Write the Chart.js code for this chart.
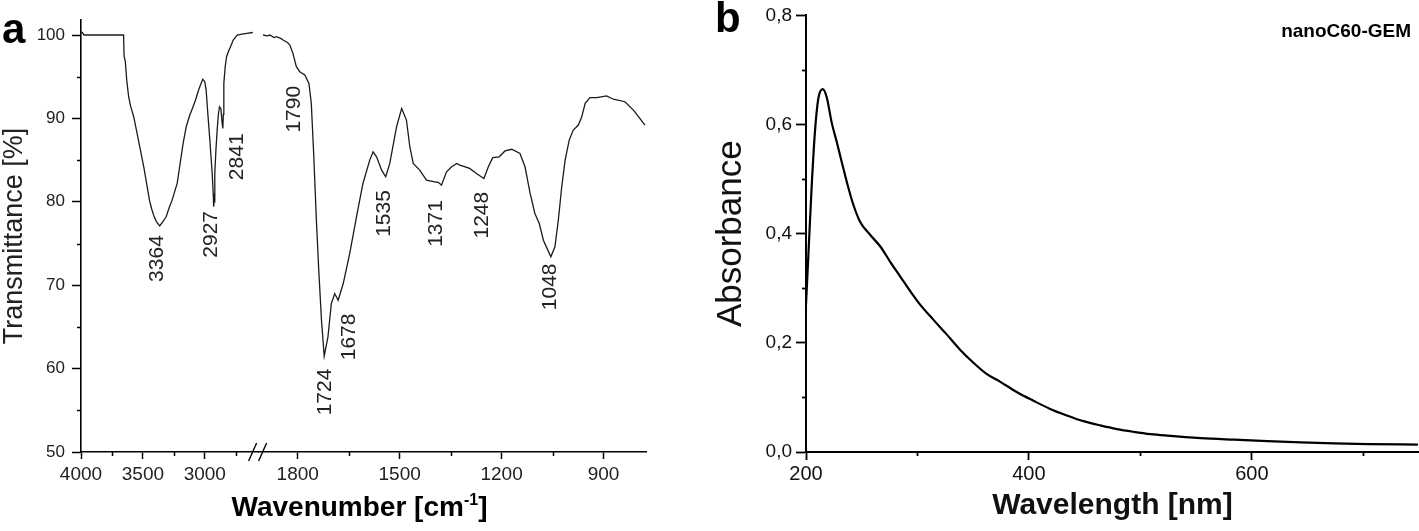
<!DOCTYPE html>
<html>
<head>
<meta charset="utf-8">
<script src="https://cdn.jsdelivr.net/npm/chart.js@4.4.1/dist/chart.umd.min.js"></script>
<style>
html, body { margin: 0; padding: 0; background: #ffffff; }
#wrap { position: relative; width: 1419px; height: 531px; overflow: hidden; background: #fff; }
#boxA { position: absolute; left: 0; top: 0; width: 700px; height: 531px; }
#boxB { position: absolute; left: 700px; top: 0; width: 719px; height: 531px; }
canvas { display: block; }
</style>
</head>
<body>
<div id="wrap">
  <div id="boxA"><canvas id="chartA" width="700" height="531"></canvas></div>
  <div id="boxB"><canvas id="chartB" width="719" height="531"></canvas></div>
</div>
<script>
// ================= DATA =================
// Panel a: FTIR spectrum, high-wavenumber segment (4000 - ~2565 cm-1)
const irWaveHigh  = [4000, 3990, 3975, 3900, 3800, 3700, 3656, 3652, 3642, 3630, 3615, 3600, 3590, 3574, 3547, 3520, 3493, 3470, 3447, 3430, 3413, 3390, 3364, 3340, 3312, 3290, 3264, 3223, 3200, 3175, 3150, 3121, 3100, 3075, 3050, 3030, 3016, 3000, 2989, 2975, 2959, 2950, 2940, 2932, 2928, 2925, 2919, 2910, 2900, 2890, 2881, 2870, 2860, 2854, 2850, 2846, 2835, 2824, 2810, 2792, 2770, 2738, 2700, 2660, 2612];
const irTransHigh = [100.4, 100.3, 100.0, 100.0, 100.0, 100.0, 100.0, 97.5, 96.8, 94.5, 92.6, 91.5, 91.0, 90.2, 88.2, 86.2, 84.2, 82.2, 80.2, 79.2, 78.4, 77.6, 77.1, 77.6, 78.2, 79.2, 80.2, 82.2, 84.5, 87.0, 89.0, 90.4, 91.2, 92.2, 93.4, 94.2, 94.7, 94.4, 93.4, 90.5, 87.4, 85.5, 83.4, 81.0, 79.4, 80.0, 83.4, 86.2, 88.6, 90.5, 91.4, 91.2, 89.5, 88.8, 90.5, 94.2, 96.2, 97.4, 98.0, 98.6, 99.4, 100.0, 100.1, 100.2, 100.3];
// Panel a: low-wavenumber segment (~1915 - 775 cm-1)
const irWaveLow  = [1902, 1890, 1882, 1870, 1863, 1850, 1843, 1830, 1823, 1814, 1804, 1794, 1779, 1767, 1760, 1753, 1745, 1738, 1730, 1722, 1711, 1701, 1691, 1681, 1666, 1647, 1627, 1608, 1588, 1578, 1568, 1553, 1541, 1529, 1509, 1494, 1480, 1470, 1460, 1441, 1421, 1396, 1385, 1377, 1362, 1347, 1332, 1323, 1294, 1274, 1252, 1239, 1226, 1207, 1190, 1170, 1146, 1131, 1116, 1102, 1089, 1077, 1055, 1043, 1033, 1023, 1013, 1001, 989, 974, 964, 954, 940, 920, 891, 871, 837, 812, 778];
const irTransLow = [100.0, 99.9, 100.0, 99.7, 99.8, 99.6, 99.4, 99.1, 98.8, 97.8, 96.2, 95.6, 95.2, 94.2, 91.8, 85.8, 77.8, 71.8, 65.8, 61.5, 63.8, 67.8, 69.0, 68.2, 70.2, 73.8, 78.2, 82.2, 85.0, 86.0, 85.4, 83.8, 83.0, 84.6, 89.0, 91.2, 89.8, 86.6, 84.6, 83.8, 82.6, 82.4, 82.3, 82.0, 83.6, 84.2, 84.6, 84.4, 84.0, 83.4, 82.8, 84.2, 85.3, 85.4, 86.1, 86.3, 85.8, 84.2, 81.0, 78.6, 77.4, 75.4, 73.4, 74.6, 77.8, 81.8, 85.0, 87.4, 88.6, 89.2, 90.2, 91.8, 92.5, 92.5, 92.7, 92.3, 92.0, 91.0, 89.2];
// Panel a tick values
const irTicksHigh = [4000, 3500, 3000];
const irTicksLow  = [1800, 1500, 1200, 900];
const irTicksY    = [50, 60, 70, 80, 90, 100];
const irMinorHigh = [3750, 3250, 2750];
const irMinorLow  = [1650, 1350, 1050];
const irMinorY    = [55, 65, 75, 85, 95];
// Panel a peak labels (text, anchor wavenumber, anchor transmittance)
const peakLabels    = ['3364', '2927', '2841', '1790', '1724', '1678', '1535', '1371', '1248', '1048'];
const peakLabelWave = [3385, 2948, 2738, 1809, 1720, 1647, 1544, 1391, 1256, 1057];
const peakLabelT    = [73.2, 76.1, 85.4, 91.1, 57.2, 63.8, 78.6, 77.4, 78.4, 69.8];

// Panel b: UV-Vis absorbance
const uvWavelength = [200, 202, 205, 208, 211, 215, 218.6, 223, 227.6, 232, 236.6, 242.5, 248.5, 257.5, 266.5, 275.4, 284.4, 293.4, 302.4, 314, 326, 338, 350, 362, 374, 389, 404, 419, 434, 449, 464, 479, 494, 509, 524, 554, 584, 614, 644, 674, 704, 749];
const uvAbsorbance = [0.270, 0.355, 0.483, 0.586, 0.647, 0.665, 0.650, 0.604, 0.568, 0.532, 0.495, 0.453, 0.422, 0.398, 0.377, 0.349, 0.322, 0.295, 0.270, 0.243, 0.216, 0.188, 0.164, 0.143, 0.129, 0.110, 0.094, 0.079, 0.067, 0.0565, 0.0487, 0.042, 0.037, 0.0328, 0.030, 0.0255, 0.0226, 0.020, 0.0177, 0.0159, 0.0146, 0.0135];
const uvTicksX = [200, 400, 600];
const uvTicksY = [0, 0.2, 0.4, 0.6, 0.8];
const uvMinorX = [300, 500, 700];
const uvMinorY = [0.1, 0.3, 0.5, 0.7];

// ================= RENDERING =================
const FONT = "'Liberation Sans', Arial, Helvetica, sans-serif";
const HIGH_MIN = 2565, HIGH_MAX = 4000, LOW_MIN = 775, LOW_MAX = 1915;

const toPts = (xs, ys) => xs.map((x, i) => ({ x: x, y: ys[i] }));
const fixTicks = vals => (s => { s.ticks = vals.map(v => ({ value: v })); });

const decor = {
  id: 'decor',
  afterDraw(chart, args, o) {
    const ctx = chart.ctx;
    ctx.save();
    (o.minor || []).forEach(m => {
      const s = chart.scales[m.axis];
      ctx.strokeStyle = '#000';
      ctx.lineWidth = m.width;
      m.values.forEach(v => {
        if (v < s.min || v > s.max) return;
        const p = Math.round(s.getPixelForValue(v)) + 0.5;
        ctx.beginPath();
        if (s.isHorizontal()) {
          ctx.moveTo(p, s.top); ctx.lineTo(p, s.top + m.len);
        } else {
          ctx.moveTo(s.right, p); ctx.lineTo(s.right - m.len, p);
        }
        ctx.stroke();
      });
    });
    if (o.letter) {
      ctx.fillStyle = '#000';
      ctx.font = 'bold 42px ' + FONT;
      ctx.textAlign = 'left';
      ctx.textBaseline = 'alphabetic';
      ctx.fillText(o.letter.text, o.letter.x, o.letter.y);
    }
    if (o.sample) {
      ctx.fillStyle = '#000';
      ctx.font = 'bold 19px ' + FONT;
      ctx.textAlign = 'right';
      ctx.textBaseline = 'alphabetic';
      ctx.fillText(o.sample.text, o.sample.x, o.sample.y);
    }
    if (o.breakAxis) {
      const s = chart.scales[o.breakAxis];
      const b = s.right, yA = s.top;
      ctx.strokeStyle = '#000';
      ctx.lineWidth = 1.4;
      [[-10, -2], [0, 8]].forEach(([a, c]) => {
        ctx.beginPath();
        ctx.moveTo(b + a, yA + 9);
        ctx.lineTo(b + c, yA - 9);
        ctx.stroke();
      });
    }
    if (o.peaks) {
      ctx.fillStyle = '#222';
      ctx.font = '21px ' + FONT;
      ctx.textAlign = 'center';
      ctx.textBaseline = 'middle';
      o.peaks.labels.forEach((t, i) => {
        const w = o.peaks.wave[i];
        const sx = w > LOW_MAX ? chart.scales.x1 : chart.scales.x2;
        const x = sx.getPixelForValue(w);
        const y = chart.scales.y.getPixelForValue(o.peaks.value[i]);
        ctx.save();
        ctx.translate(x, y);
        ctx.rotate(-Math.PI / 2);
        ctx.fillText(t, 0, 0);
        ctx.restore();
      });
    }
    if (o.xTitle) {
      const t = o.xTitle;
      const big = 'bold 28px ' + FONT, small = 'bold 16px ' + FONT;
      ctx.fillStyle = '#000';
      ctx.textBaseline = 'alphabetic';
      ctx.textAlign = 'left';
      ctx.font = big; const w1 = ctx.measureText(t.main).width; const w3 = ctx.measureText(t.end).width;
      ctx.font = small; const w2 = ctx.measureText(t.sup).width;
      const cx = (chart.chartArea.left + chart.chartArea.right) / 2 + t.dx;
      let x = cx - (w1 + w2 + w3) / 2;
      ctx.font = big; ctx.fillText(t.main, x, t.y); x += w1;
      ctx.font = small; ctx.fillText(t.sup, x, t.y - 11); x += w2;
      ctx.font = big; ctx.fillText(t.end, x, t.y);
    }
    ctx.restore();
  }
};

function xAxisA(min, max, tickVals, weight) {
  return {
    type: 'linear', position: 'bottom', stack: 'wn', stackWeight: weight,
    reverse: true, min: min, max: max, offset: false,
    afterBuildTicks: fixTicks(tickVals),
    ticks: { autoSkip: false, maxRotation: 0, minRotation: 0, padding: 4, color: '#222',
             font: { family: FONT, size: 19 }, callback: v => String(v) },
    grid: { drawOnChartArea: false, drawTicks: true, tickLength: 7, tickWidth: 1.5, tickColor: '#000' },
    border: { display: true, color: '#000', width: 1.6 },
    afterFit(s) { s.height = 79; }
  };
}

new Chart(document.getElementById('chartA'), {
  type: 'line',
  data: {
    datasets: [
      { data: toPts(irWaveHigh, irTransHigh), xAxisID: 'x1', yAxisID: 'y',
        borderColor: '#1a1a1a', borderWidth: 1.3, pointRadius: 0, tension: 0, fill: false },
      { data: toPts(irWaveLow, irTransLow), xAxisID: 'x2', yAxisID: 'y',
        borderColor: '#1a1a1a', borderWidth: 1.3, pointRadius: 0, tension: 0, fill: false }
    ]
  },
  options: {
    responsive: false, animation: false, events: [],
    layout: { padding: { left: 0, right: 54, top: 20, bottom: 0 } },
    plugins: {
      legend: { display: false }, tooltip: { enabled: false },
      decor: {
        letter: { text: 'a', x: 2, y: 43 },
        breakAxis: 'x1',
        minor: [
          { axis: 'x1', values: irMinorHigh, len: 4, width: 1.5 },
          { axis: 'x2', values: irMinorLow, len: 4, width: 1.5 },
          { axis: 'y', values: irMinorY, len: 4, width: 1.5 }
        ],
        peaks: { labels: peakLabels, wave: peakLabelWave, value: peakLabelT },
        xTitle: { main: 'Wavenumber [cm', sup: '-1', end: ']', y: 516, dx: -4 }
      }
    },
    scales: {
      x1: xAxisA(HIGH_MIN, HIGH_MAX, irTicksHigh, 177.4),
      x2: xAxisA(LOW_MIN, LOW_MAX, irTicksLow, 386.9),
      y: {
        type: 'linear', position: 'left', min: 50, max: 101.8,
        afterBuildTicks: fixTicks(irTicksY),
        ticks: { padding: 7, color: '#222', font: { family: FONT, size: 17 }, callback: v => String(v) },
        grid: { drawOnChartArea: false, drawTicks: true, tickLength: 9, tickWidth: 1.5, tickColor: '#000' },
        border: { display: true, color: '#000', width: 1.6 },
        title: { display: true, text: 'Transmittance [%]', color: '#222',
                 font: { family: FONT, size: 27, lineHeight: 1 }, padding: { top: 1, bottom: 0 } },
        afterFit(s) { s.width = 81; }
      }
    }
  },
  plugins: [decor]
});

new Chart(document.getElementById('chartB'), {
  type: 'line',
  data: {
    datasets: [
      { data: toPts(uvWavelength, uvAbsorbance), borderColor: '#000', borderWidth: 2.2,
        pointRadius: 0, cubicInterpolationMode: 'monotone', fill: false }
    ]
  },
  options: {
    responsive: false, animation: false, events: [],
    layout: { padding: { left: 0, right: 0, top: 13, bottom: 0 } },
    plugins: {
      legend: { display: false }, tooltip: { enabled: false },
      decor: {
        letter: { text: 'b', x: 15, y: 32 },
        sample: { text: 'nanoC60-GEM', x: 711, y: 37 },
        minor: [
          { axis: 'x', values: uvMinorX, len: 4, width: 1.8 },
          { axis: 'y', values: uvMinorY, len: 4, width: 1.8 }
        ]
      }
    },
    scales: {
      x: {
        type: 'linear', position: 'bottom', min: 200, max: 750,
        afterBuildTicks: fixTicks(uvTicksX),
        ticks: { autoSkip: false, maxRotation: 0, padding: 2, color: '#111',
                 font: { family: FONT, size: 20 }, callback: v => String(v) },
        grid: { drawOnChartArea: false, drawTicks: true, tickLength: 8, tickWidth: 1.8, tickColor: '#000' },
        border: { display: true, color: '#000', width: 2 },
        title: { display: true, text: 'Wavelength [nm]', color: '#111',
                 font: { family: FONT, size: 30, weight: 'bold', lineHeight: 1 }, padding: { top: 0, bottom: 10 } },
        afterFit(s) { s.height = 79; }
      },
      y: {
        type: 'linear', position: 'left', min: 0, max: 0.8,
        afterBuildTicks: fixTicks(uvTicksY),
        ticks: { padding: 4, color: '#111', font: { family: FONT, size: 19 },
                 callback: v => v.toFixed(1).replace('.', ',') },
        grid: { drawOnChartArea: false, drawTicks: true, tickLength: 10, tickWidth: 1.8, tickColor: '#000' },
        border: { display: true, color: '#000', width: 2 },
        title: { display: true, text: 'Absorbance', color: '#111',
                 font: { family: FONT, size: 35, lineHeight: 1 }, padding: { top: 14, bottom: 0 } },
        afterFit(s) { s.width = 106; }
      }
    }
  },
  plugins: [decor]
});
</script>
</body>
</html>
